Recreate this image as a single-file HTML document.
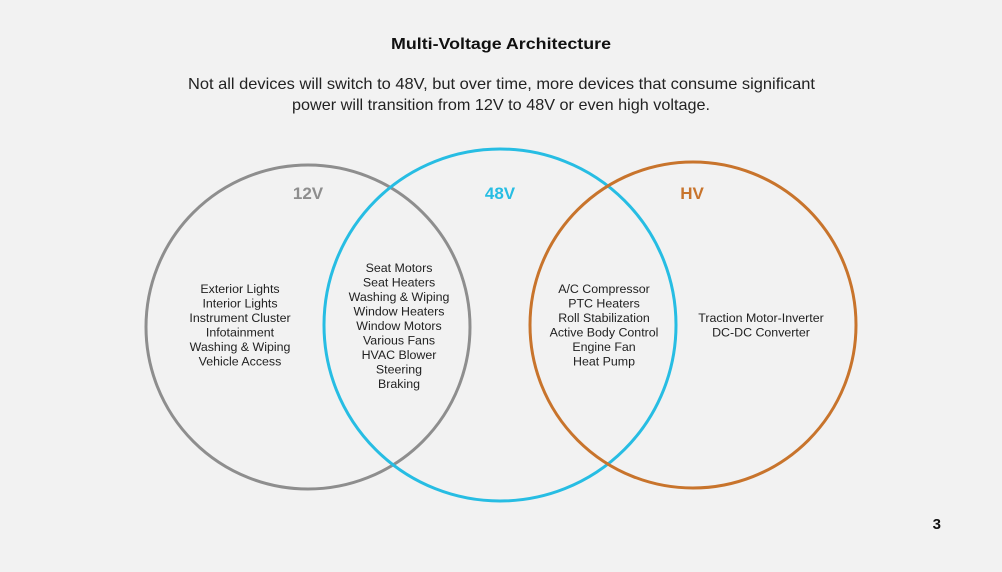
<!DOCTYPE html>
<html><head><meta charset="utf-8"><style>
html,body{margin:0;padding:0;background:#f2f2f2;}
body{width:1002px;height:572px;position:relative;overflow:hidden;font-family:"Liberation Sans",sans-serif;}
svg{position:absolute;left:0;top:0;}
</style></head><body>
<svg width="1002" height="572" viewBox="0 0 1002 572" font-family="Liberation Sans, sans-serif">
<rect width="1002" height="572" fill="#f2f2f2"/>
<text x="391" y="49" font-size="16" font-weight="bold" fill="#111" textLength="220" lengthAdjust="spacingAndGlyphs">Multi-Voltage Architecture</text>
<text x="188" y="89" font-size="16" fill="#222" textLength="627" lengthAdjust="spacingAndGlyphs">Not all devices will switch to 48V, but over time, more devices that consume significant</text>
<text x="292" y="110" font-size="16" fill="#222" textLength="418" lengthAdjust="spacingAndGlyphs">power will transition from 12V to 48V or even high voltage.</text>
<circle cx="308" cy="327" r="162" fill="none" stroke="#8e8e8e" stroke-width="3"/>
<circle cx="500" cy="325" r="176" fill="none" stroke="#27bde3" stroke-width="3"/>
<circle cx="693" cy="325" r="163" fill="none" stroke="#c8742c" stroke-width="3"/>
<text x="308" y="199" text-anchor="middle" font-size="17" font-weight="bold" fill="#8e8e8e">12V</text>
<text x="500" y="199" text-anchor="middle" font-size="17" font-weight="bold" fill="#27bde3">48V</text>
<text x="692" y="199" text-anchor="middle" font-size="17" font-weight="bold" fill="#c8742c">HV</text>
<g font-size="12.4" fill="#222" text-anchor="middle">
<text x="240" y="293">Exterior Lights</text>
<text x="240" y="307.5">Interior Lights</text>
<text x="240" y="322">Instrument Cluster</text>
<text x="240" y="336.5">Infotainment</text>
<text x="240" y="351">Washing &amp; Wiping</text>
<text x="240" y="365.5">Vehicle Access</text>
<text x="399" y="272">Seat Motors</text>
<text x="399" y="286.5">Seat Heaters</text>
<text x="399" y="301">Washing &amp; Wiping</text>
<text x="399" y="315.5">Window Heaters</text>
<text x="399" y="330">Window Motors</text>
<text x="399" y="344.5">Various Fans</text>
<text x="399" y="359">HVAC Blower</text>
<text x="399" y="373.5">Steering</text>
<text x="399" y="388">Braking</text>
<text x="604" y="293">A/C Compressor</text>
<text x="604" y="307.5">PTC Heaters</text>
<text x="604" y="322">Roll Stabilization</text>
<text x="604" y="336.5">Active Body Control</text>
<text x="604" y="351">Engine Fan</text>
<text x="604" y="365.5">Heat Pump</text>
<text x="761" y="322">Traction Motor-Inverter</text>
<text x="761" y="336.5">DC-DC Converter</text>
</g>
<text x="941" y="529" text-anchor="end" font-size="15" font-weight="bold" fill="#111">3</text>
</svg>
</body></html>
